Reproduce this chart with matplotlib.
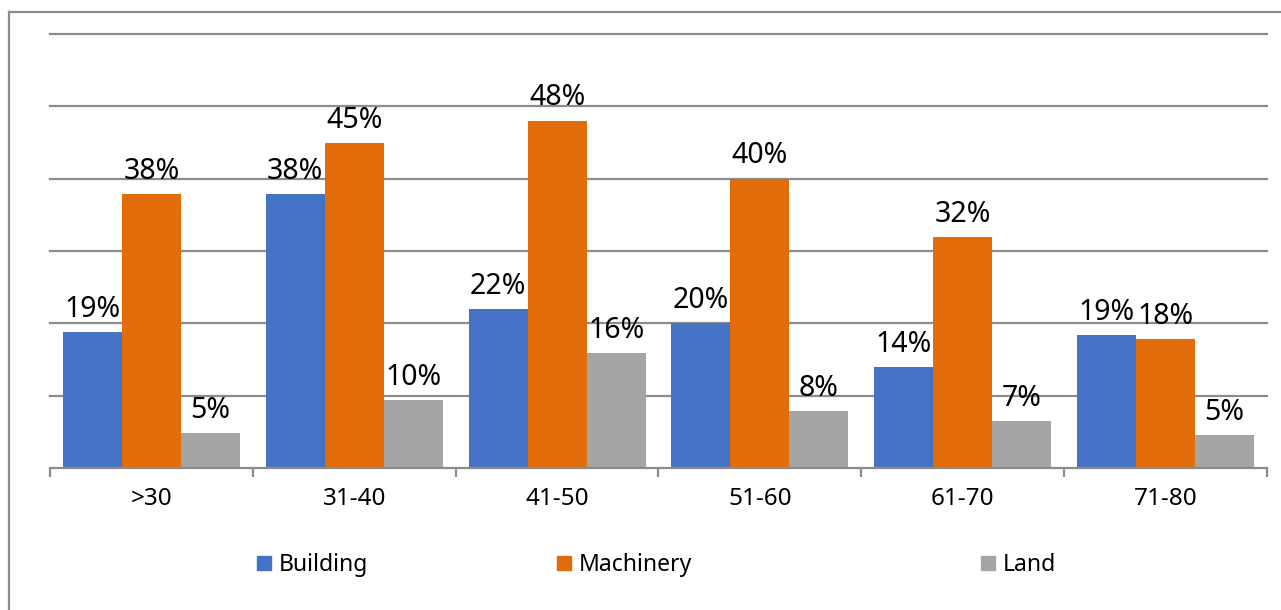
import numpy as np
import matplotlib
matplotlib.use("Agg")
import matplotlib.pyplot as plt
from matplotlib.lines import Line2D
from matplotlib.patches import Patch

plt.rcParams['font.family'] = ['Noto Sans', 'DejaVu Sans']

# data
age_groups = [">30", "31-40", "41-50", "51-60", "61-70", "71-80"]
series_names = ["Building", "Machinery", "Land"]
building = [0.188, 0.379, 0.220, 0.200, 0.139, 0.184]
machinery = [0.379, 0.449, 0.480, 0.400, 0.319, 0.178]
land = [0.048, 0.094, 0.159, 0.079, 0.065, 0.045]
building_labels = ["19%", "38%", "22%", "20%", "14%", "19%"]
machinery_labels = ["38%", "45%", "48%", "40%", "32%", "18%"]
land_labels = ["5%", "10%", "16%", "8%", "7%", "5%"]
colors = ["#4472C4", "#E36C0A", "#A5A5A5"]

fig = plt.figure(figsize=(12.81, 6.10), dpi=100)
ax = fig.add_axes([50/1281, 1 - 468/610, 1217/1281, 434/610])

x = np.arange(len(age_groups))
w = 0.291
grid_col = "#8c8c8c"

series = [(building, building_labels), (machinery, machinery_labels), (land, land_labels)]
for k, (vals, labs) in enumerate(series):
    bars = ax.bar(x + (k - 1) * w, vals, width=w, color=colors[k], label=series_names[k],
                  zorder=3, linewidth=0)
    for b, lab in zip(bars, labs):
        ax.annotate(lab, (b.get_x() + b.get_width() / 2, b.get_height()),
                    xytext=(0, 6), textcoords="offset points",
                    ha="center", va="bottom", fontsize=20.5, color="black", zorder=4)

ax.set_xlim(-0.5, len(age_groups) - 0.5)
ax.set_ylim(0, 0.6)

# horizontal gridlines, no y labels
ax.set_yticks(np.arange(0.1, 0.61, 0.1))
ax.yaxis.grid(True, color=grid_col, linewidth=1.6, zorder=0)
for gl in ax.get_ygridlines():
    gl.set_clip_on(False)
ax.tick_params(axis="y", left=False, labelleft=False)

for s in ["left", "right", "top"]:
    ax.spines[s].set_visible(False)
ax.spines["bottom"].set_color(grid_col)
ax.spines["bottom"].set_linewidth(1.6)
ax.spines["bottom"].set_zorder(4)

# category boundary ticks and centred labels
ax.set_xticks(np.arange(-0.5, len(age_groups), 1.0))
ax.set_xticklabels([])
ax.tick_params(axis="x", which="major", length=6.5, width=1.6, color=grid_col)
ax.set_xticks(x, minor=True)
ax.set_xticklabels(age_groups, minor=True, fontsize=17.5)
ax.tick_params(axis="x", which="minor", length=0, pad=14)

# legend entries placed one by one
legend_x = [257/1281, 557/1281, 981/1281]
handles = [Patch(color=c) for c in colors]
for i in range(3):
    fig.legend([handles[i]], [series_names[i]], loc="center left",
               bbox_to_anchor=(legend_x[i], 1 - 565/610), frameon=False,
               fontsize=16.5, handlelength=0.6, handleheight=0.6,
               handletextpad=0.35, borderpad=0, borderaxespad=0)

# outer chart border (left and top visible)
fig.add_artist(Line2D([9/1281, 9/1281], [0, 1 - 12/610], color="#8c8c8c", linewidth=1.6))
fig.add_artist(Line2D([9/1281, 1], [1 - 12/610, 1 - 12/610], color="#8c8c8c", linewidth=1.6))

fig.savefig("out.png", dpi=100)
